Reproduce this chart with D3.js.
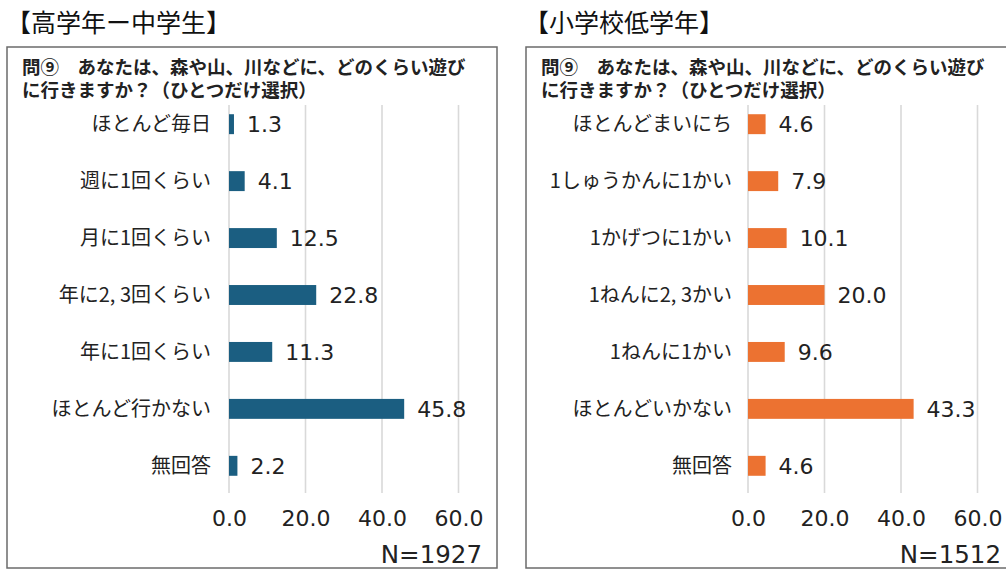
<!DOCTYPE html>
<html><head><meta charset="utf-8">
<script src="https://cdn.jsdelivr.net/npm/d3@7"></script>
<style>
html,body{margin:0;padding:0;background:#fff;}
svg{display:block;font-family:"Noto Sans CJK JP","Noto Sans",sans-serif;}
</style></head>
<body>
<svg id="c" width="1006" height="570"></svg>
<script>
const titleLeft = "【高学年ー中学生】";
const titleRight = "【小学校低学年】";
const questionLines = ["問⑨　あなたは、森や山、川などに、どのくらい遊び", "に行きますか？（ひとつだけ選択）"];
const categoriesLeft = ["ほとんど毎日","週に1回くらい","月に1回くらい","年に2, 3回くらい","年に1回くらい","ほとんど行かない","無回答"];
const valuesLeft = [1.3, 4.1, 12.5, 22.8, 11.3, 45.8, 2.2];
const categoriesRight = ["ほとんどまいにち","1しゅうかんに1かい","1かげつに1かい","1ねんに2, 3かい","1ねんに1かい","ほとんどいかない","無回答"];
const valuesRight = [4.6, 7.9, 10.1, 20.0, 9.6, 43.3, 4.6];
const tickValues = [0, 20, 40, 60];
const nLeft = "N=1927";
const nRight = "N=1512";

const numFont = '"DejaVu Sans","Noto Sans",sans-serif';
const svg = d3.select("#c");

function panel(cfg){
  const g = svg.append("g");
  g.append("text").attr("x", cfg.titleX).attr("y", 32)
    .attr("font-size", 25).attr("fill", "#111").text(cfg.title);
  g.append("rect").attr("x", cfg.boxX).attr("y", 47).attr("width", cfg.boxW).attr("height", 521)
    .attr("fill", "none").attr("stroke", "#6b6b6b").attr("stroke-width", 1.5);
  questionLines.forEach((t,i)=>{
    g.append("text").attr("x", cfg.boxX + 15).attr("y", 74 + i*23)
      .attr("font-size", 18.5).attr("font-weight", 700).attr("fill", "#222").text(t);
  });
  const x = d3.scaleLinear().domain([0, 60]).range([cfg.x0, cfg.x0 + 229.5]);
  const y = d3.scaleBand().domain(cfg.cats).range([96, 494]).paddingInner(0.65).paddingOuter(0.32);
  g.append("g").selectAll("line").data(tickValues).join("line")
    .attr("x1", d=>x(d)).attr("x2", d=>x(d)).attr("y1", 105).attr("y2", 493)
    .attr("stroke", "#d9d9d9").attr("stroke-width", 1.6);
  const ax = d3.axisBottom(x).tickValues(tickValues).tickFormat(d3.format(".1f")).tickSize(0).tickPadding(0);
  const axg = g.append("g").attr("transform", "translate(0,510)").call(ax);
  axg.select(".domain").remove();
  axg.selectAll("text").attr("font-size", 22).attr("fill", "#222")
    .attr("font-family", numFont);
  g.append("g").selectAll("rect").data(cfg.vals).join("rect")
    .attr("x", x(0)).attr("y", (d,i)=>y(cfg.cats[i]))
    .attr("width", d=>x(d)-x(0)).attr("height", y.bandwidth())
    .attr("fill", cfg.color);
  g.append("g").selectAll("text").data(cfg.cats).join("text")
    .attr("x", cfg.labelX).attr("y", d=>y(d)+y.bandwidth()/2)
    .attr("dy", "0.36em").attr("text-anchor", "end")
    .attr("font-size", 20).attr("fill", "#222").text(d=>d);
  g.append("g").selectAll("text").data(cfg.vals).join("text")
    .attr("x", d=>x(d)+13).attr("y", (d,i)=>y(cfg.cats[i])+y.bandwidth()/2)
    .attr("dy", "0.36em").attr("font-size", 22).attr("fill", "#222")
    .attr("font-family", numFont)
    .text(d=>d3.format(".1f")(d));
  g.append("text").attr("x", cfg.nX).attr("y", 563).attr("text-anchor", "end")
    .attr("font-size", 24.5).attr("fill", "#222").attr("font-family", numFont).text(cfg.n);
}

panel({title:titleLeft, titleX:6, boxX:7, boxW:490, x0:229, cats:categoriesLeft, vals:valuesLeft,
  color:"#1b5e81", labelX:211, nX:482, n:nLeft});
panel({title:titleRight, titleX:524, boxX:526, boxW:490, x0:748, cats:categoriesRight, vals:valuesRight,
  color:"#ec7231", labelX:732, nX:1001, n:nRight});
</script>
</body></html>
